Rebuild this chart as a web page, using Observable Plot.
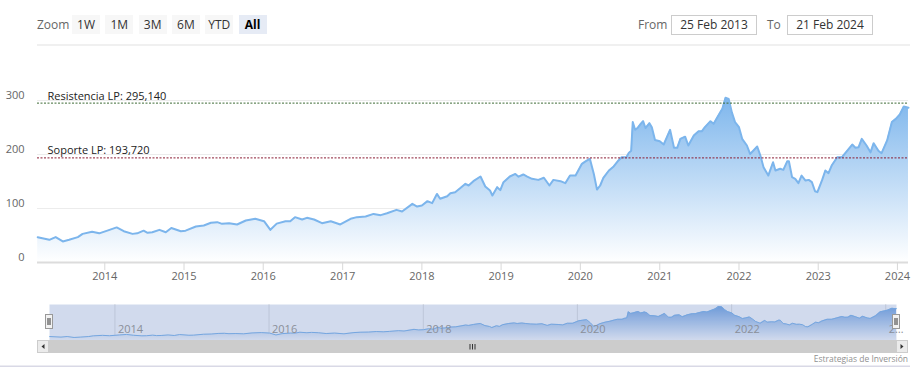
<!DOCTYPE html>
<html><head><meta charset="utf-8">
<script src="https://cdn.jsdelivr.net/npm/d3@7"></script>
<script src="https://cdn.jsdelivr.net/npm/@observablehq/plot@0.6"></script>
<style>
body{margin:0;background:#fff;font-family:"Open Sans",sans-serif;}
#wrap{position:relative;width:918px;height:381px;overflow:hidden;background:#fff;}
.btn{position:absolute;top:15px;height:19px;width:28px;background:#f7f7f7;color:#333;font-size:12px;line-height:19px;text-align:center;}
.btn.sel{background:#e6ebf5;color:#000;font-weight:bold;}
.lbl{position:absolute;top:15px;line-height:19px;font-size:12px;color:#666;}
.box{position:absolute;top:15px;height:18px;border:1px solid #ccc;font-size:12px;line-height:18px;text-align:center;color:#333;}
.plotpos{position:absolute;left:0;}
</style></head><body>
<div id="wrap"></div>
<script>
// ---- data ----
const dates = [2013.153,2013.30,2013.38,2013.47,2013.55,2013.66,2013.72,2013.84,2013.93,
2014.06,2014.15,2014.24,2014.35,2014.41,2014.49,2014.54,2014.60,2014.69,2014.77,2014.84,2014.96,
2015.02,2015.15,2015.25,2015.34,2015.42,2015.48,2015.57,2015.67,2015.78,2015.90,
2016.01,2016.09,2016.17,2016.28,2016.34,2016.40,2016.49,2016.55,2016.64,2016.74,2016.85,2016.97,
2017.10,2017.18,2017.29,2017.39,2017.48,2017.56,2017.68,2017.75,2017.88,2017.94,
2018.00,2018.07,2018.13,2018.19,2018.23,2018.32,2018.36,2018.42,2018.49,2018.55,2018.59,2018.65,2018.74,2018.80,2018.86,2018.89,2018.95,2018.99,
2019.03,2019.11,2019.18,2019.22,2019.28,2019.33,2019.39,2019.47,2019.54,2019.61,2019.66,2019.75,2019.81,2019.87,2019.94,
2020.02,2020.07,2020.12,2020.17,2020.21,2020.25,2020.29,2020.36,2020.42,2020.48,2020.52,2020.58,2020.61,2020.64,2020.66,2020.69,2020.72,2020.76,2020.79,2020.82,2020.87,2020.90,2020.94,
2021.00,2021.05,2021.09,2021.13,2021.18,2021.22,2021.26,2021.32,2021.36,2021.43,2021.49,2021.53,2021.57,2021.64,2021.68,2021.74,2021.79,2021.83,2021.87,2021.91,2021.95,
2022.00,2022.04,2022.10,2022.14,2022.18,2022.23,2022.27,2022.31,2022.37,2022.43,2022.46,2022.52,2022.56,2022.61,2022.63,2022.67,2022.71,2022.75,2022.79,2022.84,2022.88,2022.92,2022.96,2022.99,
2023.05,2023.09,2023.13,2023.17,2023.24,2023.30,2023.36,2023.43,2023.47,2023.51,2023.55,2023.61,2023.66,2023.70,2023.76,2023.80,2023.87,2023.93,2023.98,
2024.03,2024.08,2024.139];
const prices = [46.9,42,47,39,42,47,53,57,54,
60.5,65,58,53,54,59,55,56,60.5,56,64,58,
59,66.7,68.5,73.5,74.7,71.6,72.8,70.4,77.8,80.9,
76.5,60.5,72,76.5,76.5,84,79.6,82.7,79.6,72.8,76.5,70.4,
80.9,84,85.2,90,87.7,91.3,97.5,94.4,108.6,103.7,
105.5,113.6,109.9,127,118,122.8,128.4,130.2,138.3,145.7,142.6,150.6,159.3,140.7,133.3,124,139.5,134,
148.8,159.3,164,159,163,159,155,153,157,142.6,153,150.6,146.9,161,161,
182.7,187.6,192,164,135,142.6,156.8,170.4,177.8,188.9,195,195,203,207,260,245.7,249,256.8,261.7,249,258,250.6,227,
224.7,218.5,232,245.7,212.4,212.4,229,233,216.7,235,243,243,250.6,261.7,256.8,272,284.6,305,303,278,260,
250.6,229,216.7,201,207,214.8,198,176.5,161,185.7,170.4,173.5,171.6,187.6,187.6,158,155,146.9,161,151.8,153,148.8,132,130.2,
153,170.4,165.4,179.6,195,195,206,218.5,212.4,213.5,229,216.7,204,221,207,202.4,226,260,266,
274,289,286.5];
const levelNames = ["Resistencia LP: 295,140", "Soporte LP: 193,720"];
const levelValues = [295.14, 193.72];
const levelColors = ["#3d6b35", "#8a1c33"];
const yTicks = [0, 100, 200, 300];
const xTickYears = [2014,2015,2016,2017,2018,2019,2020,2021,2022,2023,2024];
const navTickYears = [2014,2016,2018,2020,2022,2024];
const navTickLabels = ["2014","2016","2018","2020","2022","2…"];
const rangeButtons = ["1W","1M","3M","6M","YTD","All"];
const fromLabel = "From", toLabel = "To";
const fromDate = "25 Feb 2013", toDate = "21 Feb 2024";
const credit = "Estrategias de Inversión";

// ---- helpers ----
function fromDecimal(y){const yr=Math.floor(y);const s=Date.UTC(yr,0,1),e=Date.UTC(yr+1,0,1);return new Date(s+(y-yr)*(e-s));}
const data = dates.map((d,i)=>({date:fromDecimal(d), value:prices[i]}));
const domainX = [new Date(Date.UTC(2013,1,25)), new Date(Date.UTC(2024,1,21))];
const levels = levelNames.map((n,i)=>({name:n, value:levelValues[i], color:levelColors[i], date:domainX[0]}));
const xTicks = xTickYears.map(y=>new Date(Date.UTC(y,0,1)));
const navTicks = navTickYears.map((y,i)=>({date:new Date(Date.UTC(y,0,1)), label:navTickLabels[i]}));

function gradient(id, y1, y2, color, op){
  return () => {
    const g = d3.create("svg:g");
    const lg = g.append("defs").append("linearGradient").attr("id",id)
      .attr("gradientUnits","userSpaceOnUse").attr("x1",0).attr("x2",0).attr("y1",y1).attr("y2",y2);
    lg.append("stop").attr("offset","0%").attr("stop-color",color).attr("stop-opacity",op);
    lg.append("stop").attr("offset","100%").attr("stop-color","#ffffff").attr("stop-opacity",1);
    return g.node();
  };
}

const wrap = document.getElementById("wrap");

// ---- toolbar ----
function addDiv(cls, text, style){const d=document.createElement("div");d.className=cls;d.textContent=text;Object.assign(d.style,style);wrap.appendChild(d);return d;}
addDiv("lbl","Zoom",{left:"37px"});
rangeButtons.forEach((b,i)=>addDiv("btn"+(b==="All"?" sel":""), b, {left:(72+i*33.3)+"px"}));
addDiv("lbl",fromLabel,{left:"638px"});
addDiv("box",fromDate,{left:"671px",width:"84px"});
addDiv("lbl",toLabel,{left:"767px"});
addDiv("box",toDate,{left:"787px",width:"84px"});
addDiv("",'',{position:"absolute",left:"37px",top:"44px",width:"873px",height:"2px",background:"#f0f0f0"});

// ---- main chart ----
const main = Plot.plot({
  width: 918, height: 245,
  marginLeft: 37, marginRight: 10, marginTop: 55, marginBottom: 28,
  style: {fontFamily: '"Open Sans", sans-serif', fontSize: "11px", background: "transparent", overflow: "visible"},
  x: {type: "utc", domain: domainX, label: null},
  y: {domain: [0, 300], label: null},
  marks: [
    gradient("mainGrad", 50, 217, "#7cb5ec", 1),
    Plot.gridY([100,200,300], {stroke: "#ececec", strokeOpacity: 1}),
    Plot.areaY(data, {x: "date", y: "value", fill: "url(#mainGrad)"}),
    Plot.lineY(data, {x: "date", y: "value", stroke: "#7cb5ec", strokeWidth: 2}),
    Plot.ruleY(levels, {y: "value", stroke: "color", strokeDasharray: "2,1.5", strokeWidth: 1}),
    Plot.text(levels, {x: "date", y: "value", text: "name", textAnchor: "start", dx: 10, dy: -7, fill: "#222", fontSize: 11}),
    Plot.ruleY([0], {stroke: "#dcdcdc", strokeWidth: 2}),
    Plot.axisY({ticks: yTicks, tickSize: 0, tickPadding: 13, dy: -5, fill: "#666", label: null}),
    Plot.axisX({ticks: xTicks, tickSize: 8, tickPadding: 2, stroke: "#d8d8d8", fill: "#666", tickFormat: d3.utcFormat("%Y"), label: null})
  ]
});
main.classList.add("plotpos"); main.style.top = "45px";
wrap.appendChild(main);

// ---- navigator ----
const nav = Plot.plot({
  width: 918, height: 70,
  marginLeft: 49, marginRight: 22, marginTop: 9, marginBottom: 25,
  style: {fontFamily: '"Open Sans", sans-serif', fontSize: "11px", background: "transparent", overflow: "visible"},
  x: {type: "utc", domain: domainX, axis: null},
  y: {domain: [13, 322], axis: null},
  marks: [
    gradient("navGrad", 9, 45, "#6a9fe0", 1),
    Plot.ruleX(navTicks, {x: "date", stroke: "#e2e2e2"}),
    Plot.areaY(data, {x: "date", y: "value", y1: 13, fill: "url(#navGrad)"}),
    Plot.lineY(data, {x: "date", y: "value", stroke: "#7cb5ec", strokeWidth: 1}),
    Plot.frame({fill: "rgba(102,133,194,0.3)"}),
    Plot.text(navTicks, {x: "date", text: "label", frameAnchor: "bottom", dy: -8, dx: 3, textAnchor: "start", fill: "#8a8f99"})
  ]
});
nav.classList.add("plotpos"); nav.style.top = "295px";
wrap.appendChild(nav);

// ---- scrollbar, handles, credit (decoration) ----
const deco = d3.create("svg").attr("width",918).attr("height",381)
  .style("position","absolute").style("left","0").style("top","0").style("pointer-events","none");
deco.append("rect").attr("x",37).attr("y",340).attr("width",871).attr("height",13).attr("fill","#f2f2f2");
deco.append("rect").attr("x",49).attr("y",340).attr("width",847).attr("height",13).attr("fill","#cccccc");
[37, 896].forEach((bx,i)=>{
  deco.append("rect").attr("x",bx+0.5).attr("y",340.5).attr("width",11).attr("height",12).attr("fill","#ebebeb").attr("stroke","#cccccc");
  const cx = bx+6, cy = 346.5;
  const pts = i===0 ? [[cx-1.5,cy],[cx+1.5,cy-2.5],[cx+1.5,cy+2.5]] : [[cx+1.5,cy],[cx-1.5,cy-2.5],[cx-1.5,cy+2.5]];
  deco.append("polygon").attr("points",pts.map(p=>p.join(",")).join(" ")).attr("fill","#333");
});
[470,472.5,475].forEach(gx=>deco.append("line").attr("x1",gx).attr("x2",gx).attr("y1",344).attr("y2",349.5).attr("stroke","#333").attr("stroke-width",1));
[45.5, 892.5].forEach(hx=>{
  deco.append("rect").attr("x",hx).attr("y",314.5).attr("width",7).attr("height",14).attr("fill","#f2f2f2").attr("stroke","#999");
  [hx+2.5, hx+4.5].forEach(lx=>deco.append("line").attr("x1",lx).attr("x2",lx).attr("y1",318).attr("y2",325).attr("stroke","#333"));
});
deco.append("text").attr("x",908).attr("y",362).attr("text-anchor","end").attr("font-size",8.5)
  .attr("font-family",'"Open Sans", sans-serif').attr("fill","#909090").text(credit);
deco.append("rect").attr("x",0).attr("y",365.5).attr("width",910).attr("height",1.5).attr("fill","#d9d9e6");
wrap.appendChild(deco.node());
</script>
</body></html>
